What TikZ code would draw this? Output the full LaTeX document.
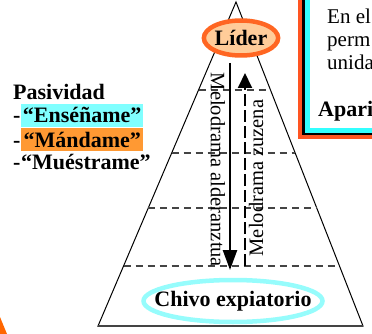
\documentclass[tikz,border=0pt]{standalone}
\usepackage{fontspec}
\setmainfont{Liberation Serif}
\usepackage{xcolor}
\usepackage{tikz}
\definecolor{ringorange}{RGB}{255,102,34}
\definecolor{peach}{RGB}{255,204,153}
\definecolor{ringcyan}{RGB}{150,252,252}
\definecolor{markcyan}{RGB}{128,255,255}
\definecolor{markorange}{RGB}{255,153,51}
\definecolor{frameorange}{RGB}{255,85,34}
\definecolor{framecyan}{RGB}{51,255,255}
\definecolor{cornerorange}{RGB}{255,102,0}
\definecolor{levelgray}{RGB}{68,68,68}
\usetikzlibrary{shapes.geometric,arrows.meta,positioning,calc}

\begin{document}
\begin{tikzpicture}[
    x=1pt, y=-1pt,
    role/.style={
        ellipse,
        line width=4.5pt,
        inner sep=0pt,
        font=\fontsize{22}{24}\selectfont\bfseries
    },
    item/.style={anchor=base west, inner sep=0pt, font=\fontsize{22}{24}\selectfont\bfseries},
    tag/.style={item, minimum width=122pt, text height=17pt, text depth=2pt, inner ysep=2pt},
    note/.style={anchor=base west, inner sep=0pt, font=\fontsize{21}{24}\selectfont},
    drama/.style={inner sep=0pt, font=\fontsize{20.5}{24}\selectfont},
    level/.style={levelgray, line width=1.2pt, dash pattern=on 7pt off 5pt},
    fallarrow/.style={-{Triangle[length=20pt,width=14pt]}, line width=2.5pt},
    risearrow/.style={-{Triangle[length=15pt,width=14pt]}, line width=2pt, dash pattern=on 12pt off 4pt}
]
    \useasboundingbox (0,0) rectangle (372,334);

    % Pyramid
    \draw[line width=1pt] (236,2) -- (363,326) -- (98,326) -- cycle;
    \draw[line width=1.5pt, levelgray] (98,326) -- (363,326);
    \foreach \y in {90,153,208,266}
        \draw[level] ({236-(\y-2)/324*138},\y) -- ({236+(\y-2)/324*127},\y);

    % Roles
    \node[role, draw=ringorange, fill=peach, minimum width=70pt, minimum height=35pt] (lider) at (241,38) {Líder};
    \filldraw[fill=white, draw=ringcyan, line width=4.5pt] (233,301) ellipse [x radius=89.5pt, y radius=21pt];
    \node[role] (chivo) at (233,301) {Chivo expiatorio};

    % Melodrama arrows
    \coordinate (fallstart) at (230,63);
    \coordinate (fallend) at (230,270);
    \coordinate (risestart) at (245,266);
    \coordinate (riseend) at (245,73);
    \draw[fallarrow] (fallstart) -- (fallend);
    \draw[risearrow] (risestart) -- (riseend);
    \node[drama, rotate=-90] (alderanztua) at (218,170) {Melodrama alderanztua};
    \node[drama, rotate=90] (zuzena) at (256,178) {Melodrama zuzena};

    % Pasividad
    \node[item] (pasividad) at (13,100) {Pasividad};
    \node[item] (dash1) at (13,123) {-};
    \node[tag, fill=markcyan] (ensename) at (21,123) {“Enséñame”};
    \node[item] (dash2) at (13,147) {-};
    \node[tag, fill=markorange] (mandame) at (21,147) {“Mándame”};
    \node[item] (dash3) at (13,169) {-};
    \node[tag] (muestrame) at (21,169) {“Muéstrame”};

    % Text box, cut at the edge
    \fill[frameorange] (298,-2) rectangle (375,139);
    \fill[black] (302,-2) rectangle (375,135);
    \fill[framecyan] (304.5,-2) rectangle (375,133);
    \fill[white] (310,-2) rectangle (375,128);
    \node[note] (line1) at (327,24) {En el};
    \node[note] (line2) at (327,47) {perm};
    \node[note] (line3) at (327,70) {unida};
    \node[item] (aparicion) at (318,117) {Apari};

    % Corner
    \fill[cornerorange] (0,317) -- (7,334) -- (0,334) -- cycle;
\end{tikzpicture}
\end{document}
